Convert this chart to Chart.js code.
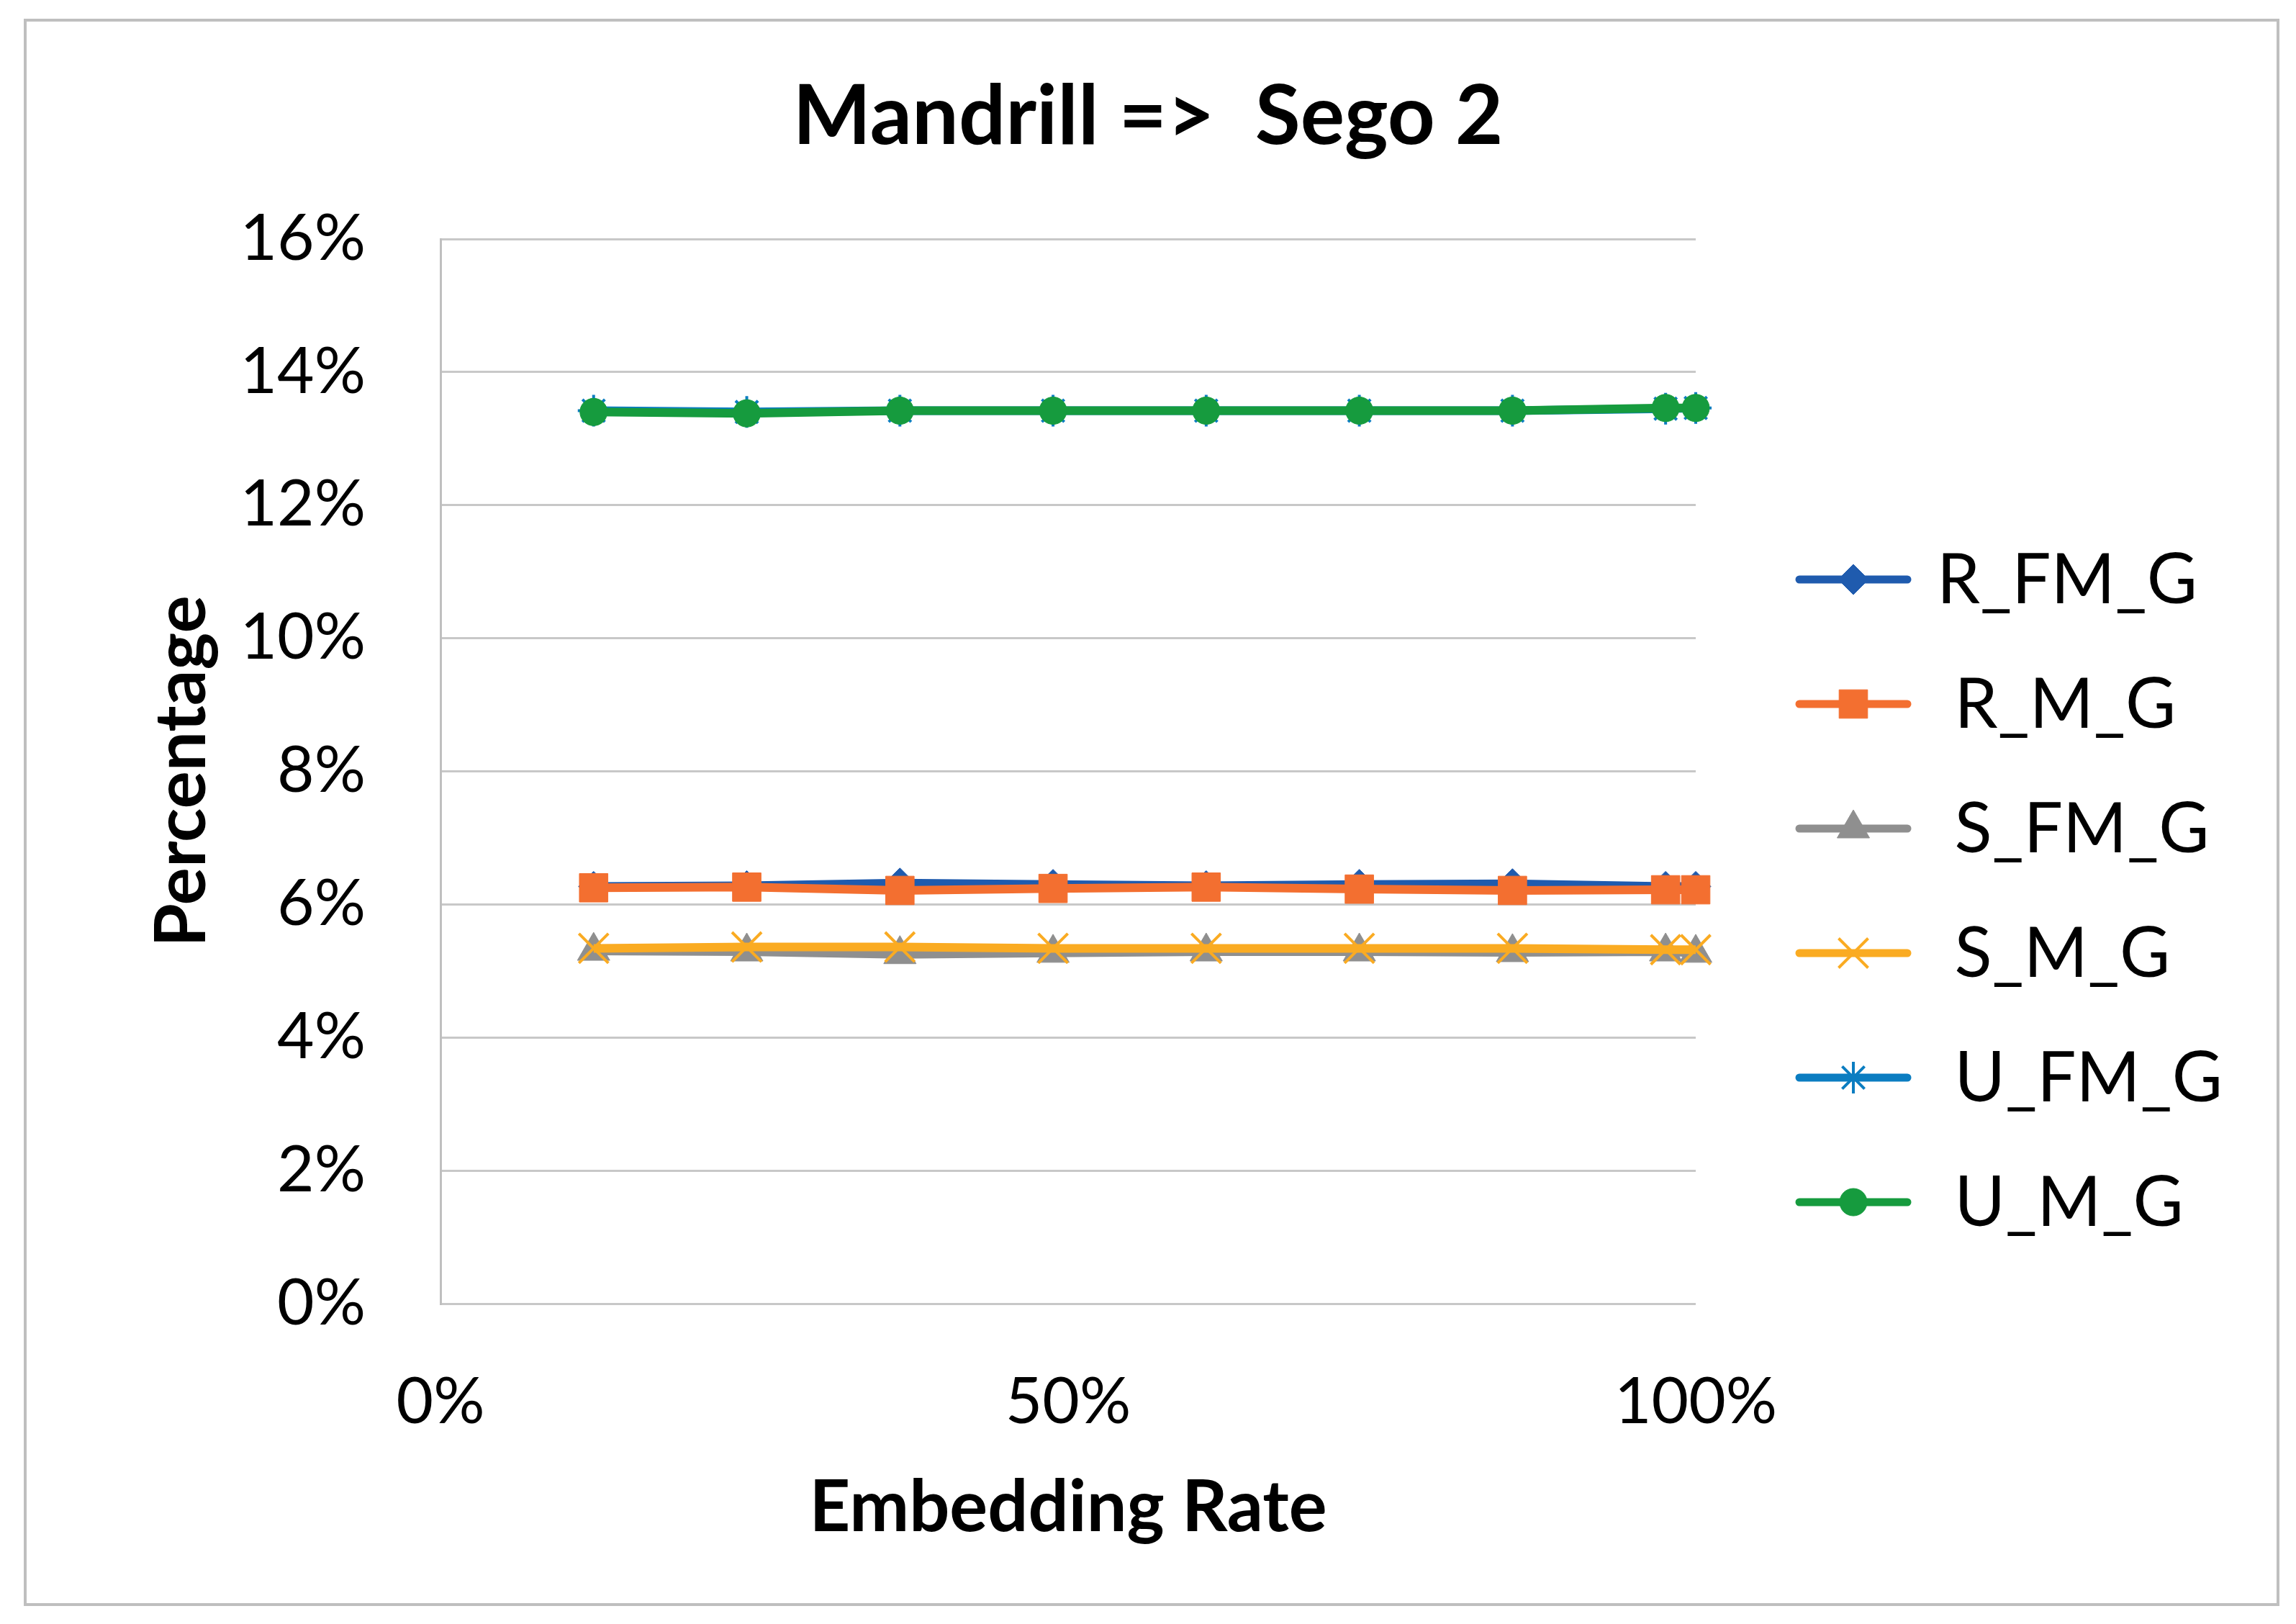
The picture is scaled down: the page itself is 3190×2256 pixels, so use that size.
<!DOCTYPE html>
<html>
<head>
<meta charset="utf-8">
<script src="https://cdn.jsdelivr.net/npm/chart.js@4/dist/chart.umd.min.js"></script>
<style>
  html, body { margin: 0; padding: 0; background: #fff; }
  canvas { display: block; }
</style>
</head>
<body>
<canvas id="myChart" width="3190" height="2256"></canvas>
<script>
// embedding rate (%) for each measured point
const rates = [12.2, 24.4, 36.6, 48.8, 61.0, 73.2, 85.4, 97.6, 100];

// series values (%)
const rFmG = [6.27, 6.28, 6.32, 6.30, 6.28, 6.30, 6.31, 6.27, 6.27];
const rMG  = [6.25, 6.26, 6.21, 6.24, 6.26, 6.23, 6.21, 6.22, 6.22];
const sFmG = [5.30, 5.29, 5.25, 5.27, 5.29, 5.29, 5.28, 5.29, 5.27];
const sMG  = [5.34, 5.36, 5.36, 5.34, 5.34, 5.34, 5.34, 5.32, 5.32];
const uFmG = [13.42, 13.40, 13.42, 13.42, 13.42, 13.42, 13.42, 13.45, 13.46];
const uMG  = [13.40, 13.38, 13.42, 13.42, 13.42, 13.42, 13.42, 13.46, 13.46];

const seriesNames = ['R_FM_G', ' R_M_G', ' S_FM_G', ' S_M_G', ' U_FM_G', ' U_M_G'];
const yTicks = [0, 2, 4, 6, 8, 10, 12, 14, 16];
const xTicks = [0, 50, 100];

const styles = [
    { color: '#1F5BAE', point: 'rectRot',  radius: 21, pbw: 1 },
    { color: '#F36F30', point: 'rect',     radius: 28, pbw: 1 },
    { color: '#8F8F8F', point: 'triangle', radius: 26, pbw: 1 },
    { color: '#FAAB22', point: 'crossRot', radius: 29, pbw: 4 },
    { color: '#0B7DC1', point: 'star',     radius: 22, pbw: 4 },
    { color: '#169B3E', point: 'circle',   radius: 19, pbw: 1 }
];

const allValues = [rFmG, rMG, sFmG, sMG, uFmG, uMG];

function toPoints(values) {
    return values.map((v, i) => ({ x: rates[i], y: v }));
}

const datasets = allValues.map((values, index) => {
    const s = styles[index];
    return {
        label: seriesNames[index],
        data: toPoints(values),
        borderColor: s.color,
        backgroundColor: s.color,
        borderWidth: 12,
        pointStyle: s.point,
        pointRadius: s.radius,
        pointBorderWidth: s.pbw,
        pointBackgroundColor: s.color,
        pointBorderColor: s.color,
        tension: 0,
        clip: false,
        // later series drawn on top, like the original
        order: allValues.length - index
    };
});

// outer frame of the chart
const framePlugin = {
    id: 'frame',
    beforeDraw(chart) {
        const ctx = chart.ctx;
        ctx.save();
        ctx.fillStyle = '#ffffff';
        ctx.fillRect(0, 0, chart.width, chart.height);
        ctx.strokeStyle = '#BFBFBF';
        ctx.lineWidth = 4;
        ctx.strokeRect(35, 28, 3130, 2201);
        ctx.restore();
    }
};

// legend with a line segment and the marker, as in the original
const lineLegend = {
    id: 'lineLegend',
    afterDraw(chart) {
        const ctx = chart.ctx;
        const area = chart.chartArea;
        const x0 = area.right + 144;
        const top = area.top + 473;
        const step = 173;
        ctx.save();
        chart.data.datasets.forEach((ds, i) => {
            const y = top + i * step;
            ctx.strokeStyle = ds.borderColor;
            ctx.lineWidth = 11;
            ctx.lineCap = 'round';
            ctx.beginPath();
            ctx.moveTo(x0, y);
            ctx.lineTo(x0 + 150, y);
            ctx.stroke();
            ctx.lineCap = 'butt';
            ctx.fillStyle = ds.pointBackgroundColor;
            ctx.strokeStyle = ds.pointBorderColor;
            ctx.lineWidth = ds.pointBorderWidth;
            Chart.helpers.drawPoint(ctx, {
                pointStyle: ds.pointStyle,
                radius: ds.pointRadius,
                rotation: 0,
                borderWidth: ds.pointBorderWidth
            }, x0 + 75, y);
            ctx.fillStyle = '#000000';
            ctx.font = '96px Lato';
            ctx.textAlign = 'left';
            ctx.textBaseline = 'middle';
            ctx.fillText(ds.label, x0 + 191, y + 2);
        });
        ctx.restore();
    }
};

function renderChart() {
    const ctx = document.getElementById('myChart').getContext('2d');
    new Chart(ctx, {
        type: 'line',
        data: { datasets: datasets },
        plugins: [framePlugin, lineLegend],
        options: {
            responsive: false,
            animation: false,
            devicePixelRatio: 1,
            layout: { padding: 0 },
            plugins: {
                legend: { display: false },
                tooltip: { enabled: false },
                title: {
                    display: true,
                    text: 'Mandrill =>  Sego 2',
                    color: '#000000',
                    font: { family: 'Lato', size: 115, weight: 'bold' },
                    padding: { top: 94, bottom: 100 }
                }
            },
            scales: {
                x: {
                    type: 'linear',
                    min: 0,
                    max: 100,
                    afterBuildTicks: (scale) => {
                        scale.ticks = xTicks.map(v => ({ value: v }));
                    },
                    afterFit: (scale) => { scale.height = 445; },
                    grid: { display: false, drawTicks: false },
                    border: { display: false },
                    ticks: {
                        padding: 84,
                        color: '#000000',
                        font: { family: 'Lato', size: 89 },
                        callback: (value) => value + '%'
                    },
                    title: {
                        display: true,
                        text: 'Embedding Rate',
                        color: '#000000',
                        font: { family: 'Lato', size: 99, weight: 'bold' },
                        padding: { top: 0, bottom: 102 }
                    }
                },
                y: {
                    type: 'linear',
                    position: 'left',
                    min: 0,
                    max: 16,
                    afterBuildTicks: (scale) => {
                        scale.ticks = yTicks.map(v => ({ value: v }));
                    },
                    afterFit: (scale) => { scale.width = 612; },
                    grid: { color: '#C8C8C8', lineWidth: 3, drawTicks: false },
                    border: { display: true, color: '#BFBFBF', width: 3 },
                    ticks: {
                        padding: 104,
                        color: '#000000',
                        font: { family: 'Lato', size: 89 },
                        callback: (value) => value + '%'
                    },
                    title: {
                        display: true,
                        text: 'Percentage',
                        color: '#000000',
                        font: { family: 'Lato', size: 98, weight: 'bold' },
                        padding: { top: 195, bottom: 0 }
                    }
                },
                // empty axis that keeps room for the legend on the right
                yRight: {
                    type: 'linear',
                    position: 'right',
                    display: true,
                    afterFit: (scale) => { scale.width = 834; },
                    grid: { display: false, drawTicks: false },
                    border: { display: false },
                    ticks: { display: false }
                }
            }
        }
    });
}

document.fonts.load('88px Lato').then(() => document.fonts.load('bold 92px Lato')).then(renderChart, renderChart);
</script>
</body>
</html>
